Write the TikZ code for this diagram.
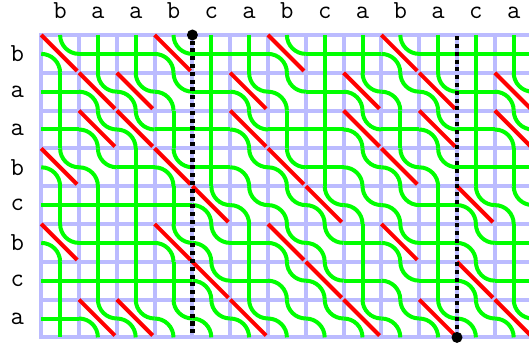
\documentclass[tikz,border=0pt]{standalone}
\usepackage{xcolor}
\usetikzlibrary{positioning}
\definecolor{gridblue}{HTML}{BBBBFF}

\begin{document}
\begin{tikzpicture}[
    x=37.8pt, y=37.8pt,
    gridline/.style={draw=gridblue, line width=4pt, line cap=rect, step=37.8pt},
    strand/.style={draw=green, line width=4pt},
    matchline/.style={draw=red, line width=4pt},
    cutline/.style={draw=black, line width=4.2pt, dash pattern=on 4pt off 3.8pt},
    cutdot/.style={circle, fill=black, inner sep=0pt, minimum size=11pt},
    toplabel/.style={font=\fontsize{26}{26}\selectfont\ttfamily, anchor=base, inner sep=0pt},
    sidelabel/.style={font=\fontsize{26}{26}\selectfont\ttfamily, inner sep=0pt}
]

% Page and clip
\useasboundingbox (-41.2pt,35pt) rectangle (487.8pt,-309pt);
\clip (-41.2pt,35pt) rectangle (487.8pt,-309pt);

% Grid
\draw[gridline] (0,0) grid (14,-8);

% Cells: M match, B bounce, X cross
\foreach \r/\cells in {
    0/{M,X,X,M,X,X,M,X,X,M,X,X,X},
    1/{X,M,M,B,X,M,B,X,M,B,M,X,M},
    2/{X,M,M,X,X,M,X,X,M,X,M,X,M},
    3/{M,B,X,M,X,B,M,X,B,M,B,X,X},
    4/{X,X,X,X,M,B,B,M,B,B,X,M,B},
    5/{M,X,X,M,B,X,M,B,X,M,X,B,X},
    6/{X,X,X,X,M,X,B,M,X,B,X,M,X},
    7/{X,M,M,B,B,M,B,B,M,B,M,B,M}} {
  \foreach \t [count=\c from 0] in \cells {
    \if\t X
      \draw[strand] (\c,-\r-.5) -- ++(1,0);
      \draw[strand] (\c+.5,-\r) -- ++(0,-1);
    \else
      \draw[strand] (\c+.5,-\r) arc (180:270:18.9pt);
      \draw[strand] (\c,-\r-.5) arc (90:0:18.9pt);
    \fi
    \if\t M
      \draw[matchline] (\c,-\r) -- ++(.95,-.95);
    \fi
  }
}

% Cuts
\node[cutdot] (cuttop) at (4,0) {};
\coordinate (cutbottom) at (4,-7.96);
\draw[cutline] (cuttop) -- (cutbottom);
\coordinate (cuttwotop) at (11,-.03);
\node[cutdot] (cuttwobottom) at (11,-8) {};
\draw[cutline] (cuttwotop) -- (cuttwobottom);

% Labels
\foreach \s [count=\c from 0] in {b,a,a,b,c,a,b,c,a,b,a,c,a}
  \node[toplabel] (top\c) at (\c+.5,.44) {\s};
\foreach \s [count=\r from 0] in {b,a,a,b,c,b,c,a}
  \node[sidelabel] (side\r) at (-.63,-\r-.5) {\s};

\end{tikzpicture}
\end{document}
